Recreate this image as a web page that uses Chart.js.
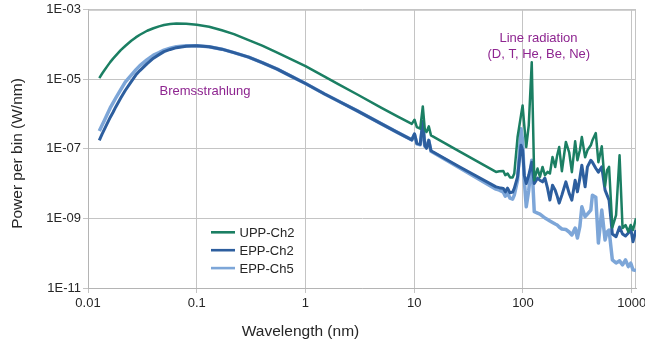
<!DOCTYPE html>
<html><head><meta charset="utf-8">
<script src="https://cdn.jsdelivr.net/npm/chart.js@4.4.1/dist/chart.umd.min.js"></script>
<style>
html,body{margin:0;padding:0;overflow:hidden;background:#fff;width:645px;height:341px;}
canvas{display:block;}
</style></head><body>
<canvas id="c" width="660" height="341"></canvas>
<script>
// Wavelength (nm)
const wavelength = [0.0127,0.0135,0.014,0.015,0.016,0.017,0.018,0.02,0.022,0.025,0.0275,0.03,0.035,0.04,0.045,0.05,0.057,0.065,0.08,0.1,0.13,0.17,0.22,0.3,0.4,0.55,0.75,1,1.5,2,3,5,7,9.5,
 10.06,10.57,11.35,11.99,12.51,12.97,13.61,14.26,26.0,56.5,
 60.6,66.0,68.8,72.2,76.0,80.3,83.2,89.2,95.9,99.2,102.8,107.2,113.0,120.4,127.0,136.1,143.2,151.3,159.2,168.2,
 176.9,186.9,197.9,206.4,215.3,227.9,248.0,266.0,281.6,301.9,316.9,333.4,347.8,372.8,391.4,420.7,435.1,467.3,493.7,530.6,
 568.9,593.4,619.0,663.7,717.8,773.0,823.4,877.3,930.6,979.1,1027.8,1095];

// Power per bin (W/nm)
const uppCh2 = [1.08e-5,1.47e-5,1.73e-5,2.36e-5,3.13e-5,3.94e-5,4.81e-5,6.91e-5,9.12e-5,1.29e-4,1.61e-4,1.92e-4,2.50e-4,2.95e-4,3.34e-4,3.65e-4,3.89e-4,4.05e-4,3.97e-4,3.72e-4,3.26e-4,2.59e-4,1.99e-4,1.34e-4,9.3e-5,5.86e-5,3.69e-5,2.40e-5,1.20e-5,7.33e-6,3.67e-6,1.51e-6,8.59e-7,5.24e-7,
 6.91e-7,4.24e-7,3.82e-7,1.66e-6,3.64e-7,3.05e-7,4.44e-7,2.45e-7,8.53e-8,2.18e-8,
 2.28e-8,2.33e-8,1.75e-8,1.96e-8,1.51e-8,1.51e-8,1.96e-8,2.19e-7,9.18e-7,1.78e-6,4.75e-7,1.13e-7,4.75e-7,3.09e-5,1.26e-8,2.73e-8,1.57e-8,3.03e-8,1.75e-8,2.18e-8,
 1.96e-8,5.86e-8,3.03e-8,6.55e-8,1.13e-7,2.28e-8,1.58e-7,7.99e-8,2.14e-8,1.65e-7,4.71e-8,9.12e-8,2.19e-7,5.74e-8,9.12e-8,1.27e-7,1.76e-7,2.85e-7,4.13e-8,1.19e-7,
 8.48e-9,2.44e-8,3.03e-8,5.49e-10,1.25e-9,6.55e-8,5.31e-10,6.47e-10,4.16e-10,6.47e-10,4.65e-10,1.01e-9];

const eppCh2 = [1.76e-7,2.71e-7,3.41e-7,5.31e-7,8.04e-7,1.13e-6,1.61e-6,2.91e-6,4.78e-6,8.65e-6,1.33e-5,1.79e-5,2.84e-5,4.07e-5,5.14e-5,6.26e-5,7.24e-5,8.15e-5,9.0e-5,9.18e-5,8.71e-5,7.38e-5,5.86e-5,4.35e-5,3.03e-5,1.97e-5,1.20e-5,7.58e-6,3.79e-6,2.39e-6,1.24e-6,5.24e-7,2.99e-7,1.82e-7,
 2.71e-7,1.45e-7,1.35e-7,6.18e-7,1.27e-7,1.04e-7,1.76e-7,8.82e-8,3.07e-8,8.10e-9,
 7.68e-9,7.29e-9,5.82e-9,7.43e-9,5.45e-9,5.71e-9,7.29e-9,1.57e-8,1.27e-7,9.12e-8,1.75e-8,1.01e-8,1.75e-8,4.13e-8,1.01e-8,1.44e-8,1.26e-8,1.13e-8,1.44e-8,7.43e-9,
 3.37e-9,9.06e-9,6.51e-9,4.38e-9,2.76e-9,4.68e-9,1.13e-8,5.24e-9,3.37e-9,1.26e-8,5.82e-9,1.44e-8,3.39e-8,8.10e-9,3.03e-8,4.71e-8,4.13e-8,2.78e-8,2.14e-8,3.03e-8,
 6.51e-9,4.68e-9,3.37e-9,3.57e-10,2.99e-10,5.67e-10,3.57e-10,3.13e-10,3.82e-10,5.20e-10,2.15e-10,4.65e-10];

const eppCh5 = [3.26e-7,4.87e-7,6.18e-7,9.80e-7,1.51e-6,2.12e-6,2.91e-6,5.10e-6,8.37e-6,1.33e-5,1.87e-5,2.48e-5,3.69e-5,4.97e-5,5.86e-5,6.91e-5,7.88e-5,8.71e-5,9.29e-5,9.29e-5,8.71e-5,7.38e-5,5.86e-5,4.35e-5,3.03e-5,1.97e-5,1.20e-5,7.58e-6,3.79e-6,2.39e-6,1.24e-6,5.24e-7,2.99e-7,1.82e-7,
 2.62e-7,1.40e-7,1.31e-7,5.07e-7,1.19e-7,1.11e-7,1.76e-7,8.53e-8,2.87e-8,6.96e-9,
 6.51e-9,5.71e-9,4.38e-9,5.34e-9,3.84e-9,3.60e-9,4.68e-9,1.26e-8,3.82e-7,1.76e-7,1.26e-8,2.16e-9,6.51e-9,4.71e-8,1.56e-9,1.43e-9,1.34e-9,1.17e-9,1.03e-9,9.30e-10,
 8.42e-10,7.63e-10,6.91e-10,6.47e-10,5.67e-10,4.97e-10,4.81e-10,4.08e-10,3.34e-10,5.31e-10,2.74e-10,5.78e-10,2.16e-9,1.12e-9,1.34e-9,1.74e-9,4.68e-9,4.10e-9,1.97e-10,1.74e-9,
 2.41e-10,4.08e-10,4.65e-10,6.43e-11,5.27e-11,6.02e-11,4.62e-11,6.43e-11,4.13e-11,5.17e-11,3.32e-11,3.17e-11];

const seriesLabels = ['UPP-Ch2','EPP-Ch2','EPP-Ch5'];
const xTicks = [0.01,0.1,1,10,100,1000];
const yTicks = [1e-11,1e-9,1e-7,1e-5,1e-3];
const xTitle = 'Wavelength (nm)';
const yTitle = 'Power per bin (W/nm)';
const notes = ['Bremsstrahlung','Line radiation','(D, T, He, Be, Ne)'];

const FONT = '"Liberation Sans", Arial, sans-serif';
const colors = ['#1b7f63','#2d5e9e','#7da6d8'];
const widths = [2.5,3,3.5];
const TEXT = '#262626';
const PURPLE = '#8e2590';

const toPts = arr => wavelength.map((w,i)=>({x:w,y:arr[i]}));

const framePlugin = {
  id:'frame',
  beforeDatasetsDraw(chart){
    const {ctx, chartArea:a} = chart;
    ctx.save();
    ctx.strokeStyle = '#c4c4c4';
    ctx.lineWidth = 1;
    ctx.beginPath();
    ctx.moveTo(a.left, a.top+0.5); ctx.lineTo(a.right, a.top+0.5);
    ctx.moveTo(a.right-0.5, a.top); ctx.lineTo(a.right-0.5, a.bottom);
    ctx.stroke();
    ctx.restore();
  }
};

const textPlugin = {
  id:'texts',
  afterDraw(chart){
    const ctx = chart.ctx;
    ctx.save();
    ctx.fillStyle = PURPLE;
    ctx.font = '13px ' + FONT;
    ctx.textAlign = 'center';
    ctx.textBaseline = 'alphabetic';
    ctx.fillText(notes[0], 205, 94.5);
    ctx.fillText(notes[1], 538.5, 42);
    ctx.fillText(notes[2], 538.8, 57.7);
    chart.data.datasets.forEach((ds,i)=>{
      const y = 232.3 + i*17.9;
      ctx.strokeStyle = ds.borderColor;
      ctx.lineWidth = 2.6;
      ctx.beginPath(); ctx.moveTo(211,y); ctx.lineTo(235,y); ctx.stroke();
      ctx.fillStyle = TEXT;
      ctx.textAlign = 'left';
      ctx.fillText(ds.label, 239.5, y+4.7);
    });
    ctx.fillStyle = TEXT;
    ctx.font = '15.5px ' + FONT;
    ctx.textAlign = 'center';
    ctx.fillText(xTitle, 300.5, 335.5);
    ctx.translate(21.5, 153.5);
    ctx.rotate(-Math.PI/2);
    ctx.fillText(yTitle, 0, 0);
    ctx.restore();
  }
};

new Chart(document.getElementById('c'), {
  type:'line',
  data:{
    datasets:[uppCh2,eppCh2,eppCh5].map((arr,i)=>({
      label:seriesLabels[i], data:toPts(arr), borderColor:colors[i], backgroundColor:colors[i],
      borderWidth:widths[i], pointRadius:0, tension:0, fill:false, borderJoinStyle:'round'
    }))
  },
  options:{
    responsive:false, animation:false, devicePixelRatio:1,
    layout:{padding:{left:0,top:9,right:24,bottom:0}},
    plugins:{legend:{display:false}, tooltip:{enabled:false}},
    scales:{
      x:{
        type:'logarithmic', min:0.01, max:1095,
        afterBuildTicks:s=>{ s.ticks = xTicks.map(v=>({value:v})); },
        afterFit:s=>{ s.height = 53; },
        ticks:{ callback:v=>String(v), font:{family:FONT,size:13}, color:TEXT, padding:3, maxRotation:0, autoSkip:false },
        grid:{ color:'#c4c4c4', lineWidth:1, tickLength:5 },
        border:{ color:'#b4b4b4', width:1 }
      },
      y:{
        type:'logarithmic', min:1e-11, max:1e-3,
        afterBuildTicks:s=>{ s.ticks = yTicks.map(v=>({value:v})); },
        afterFit:s=>{ s.width = 88; },
        ticks:{ callback:v=>{ const e=Math.round(Math.log10(v)); return '1E'+(e<0?'-':'+')+String(Math.abs(e)).padStart(2,'0'); },
          font:{family:FONT,size:13}, color:TEXT, padding:2, autoSkip:false },
        grid:{ color:'#c4c4c4', lineWidth:1, tickLength:5 },
        border:{ color:'#b4b4b4', width:1 }
      }
    }
  },
  plugins:[framePlugin, textPlugin]
});
</script>
</body></html>
